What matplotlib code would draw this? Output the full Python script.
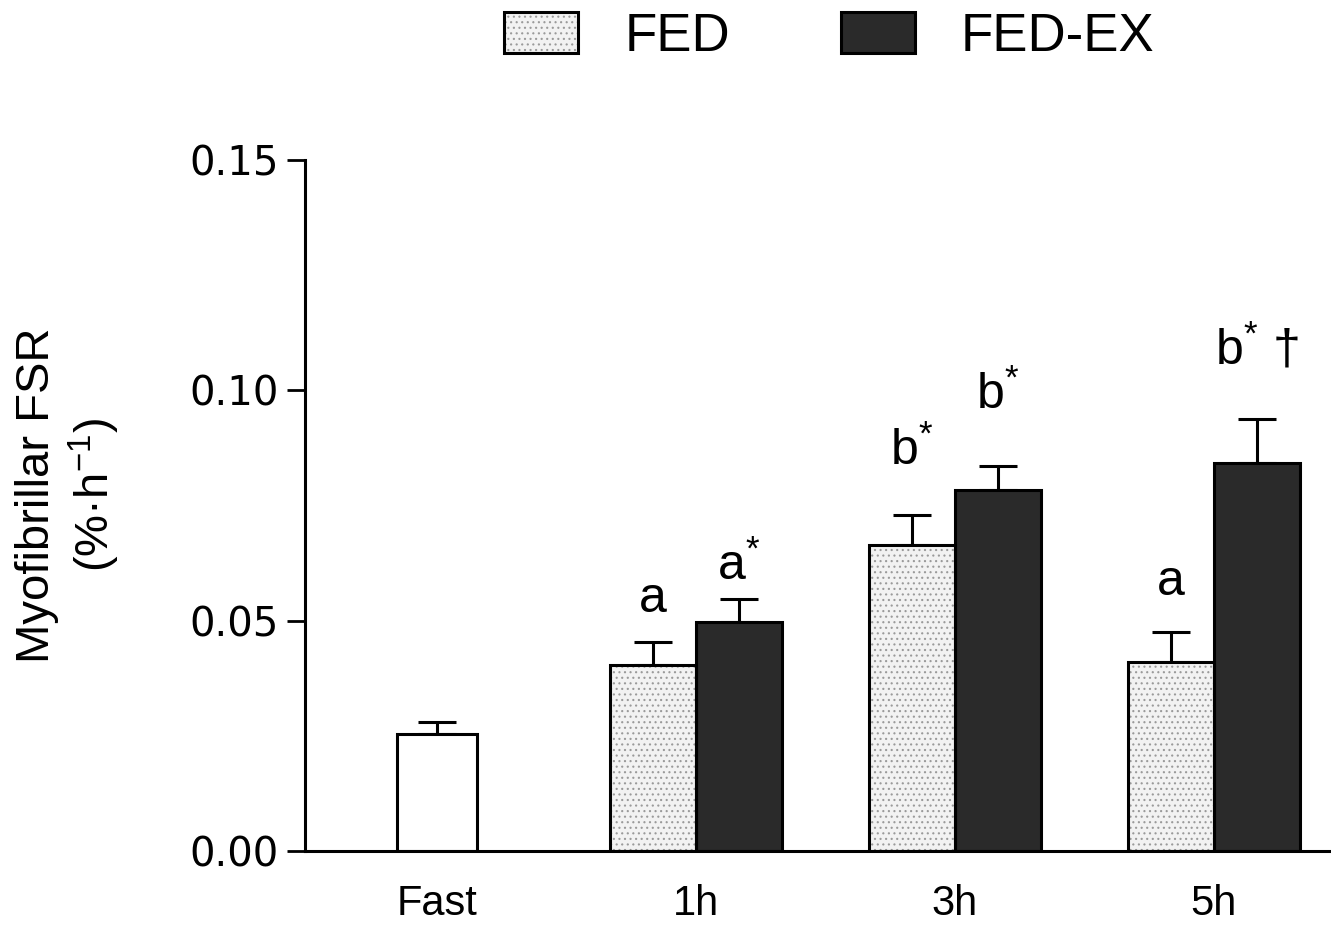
import matplotlib.pyplot as plt
import numpy as np
from matplotlib.legend_handler import HandlerTuple

plt.rcParams['font.family'] = ['Liberation Sans', 'DejaVu Sans']
plt.rcParams['mathtext.fontset'] = 'custom'
plt.rcParams['mathtext.rm'] = 'Liberation Sans'
plt.rcParams['mathtext.it'] = 'Liberation Sans'
plt.rcParams['hatch.linewidth'] = 0.8

groups = ['Fast', '1h', '3h', '5h']
fast_mean = 0.0254
fast_err = 0.0026
fed_mean = [0.0404, 0.0665, 0.0411]
fed_err = [0.0050, 0.0065, 0.0065]
fedex_mean = [0.0498, 0.0783, 0.0843]
fedex_err = [0.0050, 0.0052, 0.0096]
fed_labels = ['a', 'b$^{*}$', 'a']
fedex_labels = ['a$^{*}$', 'b$^{*}$', 'b$^{*}$ †']
fed_label_y = [0.0498, 0.0817, 0.0535]
fedex_label_y = [0.0567, 0.0937, 0.1035]

fig = plt.figure(figsize=(13.31, 9.26), dpi=100)
ax = fig.add_axes([0.2292, 0.081, 0.7708, 0.746])

x = np.arange(len(groups))
w = 0.332
xt = x[1:]
err_kw = dict(fmt='none', ecolor='black', elinewidth=2.2, capsize=14, capthick=2.2, zorder=1)

# fasting bar
ax.bar(x[0], fast_mean, 0.309, facecolor='white', edgecolor='black', linewidth=2.2, zorder=2)
ax.errorbar(x[0], fast_mean, yerr=[[0], [fast_err]], **err_kw)

# FED: dotted light grey
fed_fill = ax.bar(xt - w / 2, fed_mean, w, facecolor='#f2f2f2', edgecolor='#9a9a9a',
                  hatch='...', linewidth=0, zorder=2)
fed_edge = ax.bar(xt - w / 2, fed_mean, w, facecolor='none', edgecolor='black',
                  linewidth=2.2, zorder=3)
ax.errorbar(xt - w / 2, fed_mean, yerr=[np.zeros(3), fed_err], **err_kw)

# FED-EX: dark
fedex = ax.bar(xt + w / 2, fedex_mean, w, facecolor='#2a2a2a', edgecolor='black',
               linewidth=2.2, zorder=2)
ax.errorbar(xt + w / 2, fedex_mean, yerr=[np.zeros(3), fedex_err], **err_kw)

for i in range(3):
    ax.text(xt[i] - w / 2, fed_label_y[i], fed_labels[i], ha='center', va='bottom', fontsize=36)
    ax.text(xt[i] + w / 2, fedex_label_y[i], fedex_labels[i], ha='center', va='bottom', fontsize=36)

ax.set_xlim(-0.51, 3.452)
ax.set_ylim(0, 0.15)
ax.set_yticks([0, 0.05, 0.10, 0.15])
ax.set_yticklabels(['0.00', '0.05', '0.10', '0.15'], family='DejaVu Sans', fontsize=29)
ax.set_xticks(x)
ax.set_xticklabels(groups, family=['Liberation Sans Narrow', 'Liberation Sans'], fontsize=30)
ax.tick_params(axis='y', length=13, width=2, pad=6)
ax.tick_params(axis='x', length=0, pad=24)
for s in ['top', 'right']:
    ax.spines[s].set_visible(False)
for s in ['left', 'bottom']:
    ax.spines[s].set_linewidth(2.2)

ax.set_ylabel('Myofibrillar FSR\n(%·h$^{-1}$)', fontsize=34, linespacing=1.2)
ax.yaxis.set_label_coords(-0.178, 0.515)

fig.legend([(fed_fill[0], fed_edge[0]), fedex[0]], ['FED', 'FED-EX'],
           handler_map={tuple: HandlerTuple(ndivide=1)},
           loc='center', bbox_to_anchor=(0.623, 0.96), ncol=2, frameon=False,
           fontsize=38, handlelength=1.4, handleheight=0.81, handletextpad=0.87,
           columnspacing=2.1)

fig.savefig('out.png', dpi=100)
